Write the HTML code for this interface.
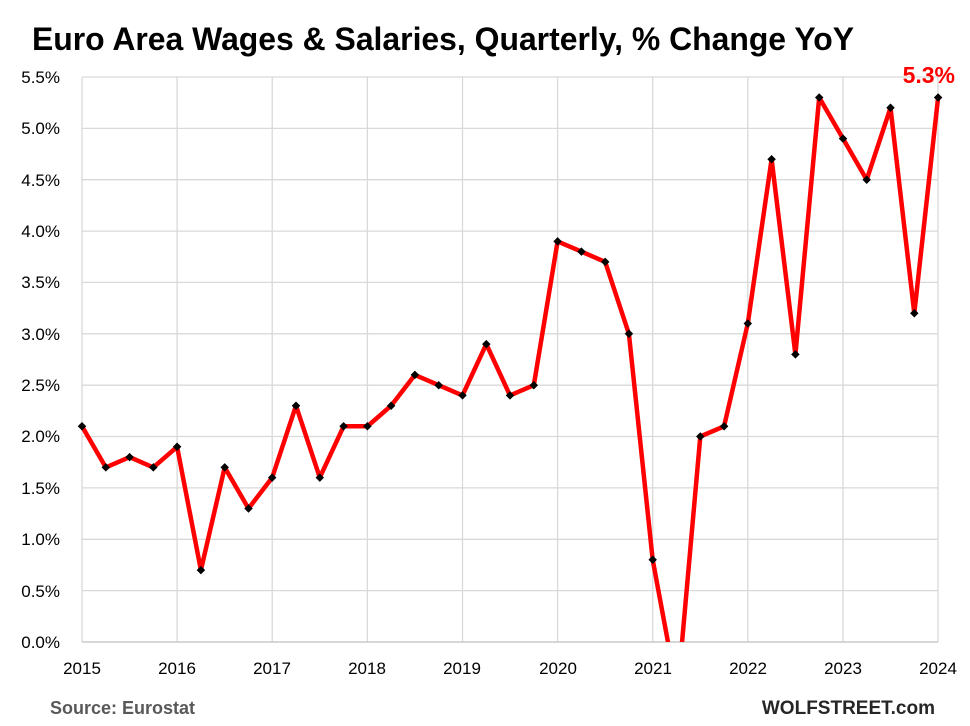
<!DOCTYPE html>
<html><head><meta charset="utf-8"><style>
html,body{margin:0;padding:0;background:#fff;}
svg{display:block;font-family:"Liberation Sans",Arial,sans-serif;}
</style></head><body>
<svg width="970" height="726" viewBox="0 0 970 726" xmlns="http://www.w3.org/2000/svg">
<rect width="970" height="726" fill="#fff"/>
<text x="32" y="50" font-size="32" font-weight="bold" fill="#000" textLength="822" lengthAdjust="spacingAndGlyphs">Euro Area Wages &amp; Salaries, Quarterly, % Change YoY</text>
<g stroke="#d9d9d9" stroke-width="1.3">
<line x1="82" y1="77" x2="938" y2="77"/><line x1="82" y1="128.4" x2="938" y2="128.4"/><line x1="82" y1="179.7" x2="938" y2="179.7"/><line x1="82" y1="231.1" x2="938" y2="231.1"/><line x1="82" y1="282.4" x2="938" y2="282.4"/><line x1="82" y1="333.8" x2="938" y2="333.8"/><line x1="82" y1="385.2" x2="938" y2="385.2"/><line x1="82" y1="436.5" x2="938" y2="436.5"/><line x1="82" y1="487.9" x2="938" y2="487.9"/><line x1="82" y1="539.3" x2="938" y2="539.3"/><line x1="82" y1="590.6" x2="938" y2="590.6"/>
<line x1="82" y1="77" x2="82" y2="642"/><line x1="177.1" y1="77" x2="177.1" y2="642"/><line x1="272.2" y1="77" x2="272.2" y2="642"/><line x1="367.4" y1="77" x2="367.4" y2="642"/><line x1="462.5" y1="77" x2="462.5" y2="642"/><line x1="557.6" y1="77" x2="557.6" y2="642"/><line x1="652.7" y1="77" x2="652.7" y2="642"/><line x1="747.8" y1="77" x2="747.8" y2="642"/><line x1="843" y1="77" x2="843" y2="642"/><line x1="938" y1="77" x2="938" y2="642"/>
</g>
<line x1="82" y1="642" x2="938" y2="642" stroke="#bfbfbf" stroke-width="1.3"/>
<g font-size="17" fill="#000" text-anchor="end">
<text x="60" y="83">5.5%</text><text x="60" y="134">5.0%</text><text x="60" y="186">4.5%</text><text x="60" y="237">4.0%</text><text x="60" y="288">3.5%</text><text x="60" y="340">3.0%</text><text x="60" y="391">2.5%</text><text x="60" y="442">2.0%</text><text x="60" y="494">1.5%</text><text x="60" y="545">1.0%</text><text x="60" y="597">0.5%</text><text x="60" y="648">0.0%</text>
</g>
<g font-size="17" fill="#000" text-anchor="middle">
<text x="82" y="674">2015</text><text x="177" y="674">2016</text><text x="272" y="674">2017</text><text x="367" y="674">2018</text><text x="462" y="674">2019</text><text x="558" y="674">2020</text><text x="653" y="674">2021</text><text x="748" y="674">2022</text><text x="843" y="674">2023</text><text x="938" y="674">2024</text>
</g>
<defs><clipPath id="c"><rect x="0" y="60" width="970" height="582"/></clipPath></defs>
<g clip-path="url(#c)">
<polyline fill="none" stroke="#ff0000" stroke-width="4.5" stroke-linejoin="round" points="82,426.3 105.8,467.4 129.6,457.1 153.3,467.4 177.1,446.8 200.9,570.1 224.7,467.4 248.5,508.5 272.2,477.6 296,405.7 319.8,477.6 343.6,426.3 367.4,426.3 391.1,405.7 414.9,374.9 438.7,385.2 462.5,395.4 486.3,344.1 510,395.4 533.8,385.2 557.6,241.4 581.4,251.6 605.2,261.9 628.9,333.8 652.7,559.8 677.5,693.4 700.3,436.5 724.1,426.3 747.8,323.5 771.6,159.2 795.4,354.4 819.2,97.5 843,138.6 866.7,179.7 890.5,107.8 914.3,313.3 938.1,97.5"/>
<g fill="#000">
<rect x="79" y="423.3" width="6" height="6" transform="rotate(45 82 426.3)"/>
<rect x="102.8" y="464.4" width="6" height="6" transform="rotate(45 105.8 467.4)"/>
<rect x="126.6" y="454.1" width="6" height="6" transform="rotate(45 129.6 457.1)"/>
<rect x="150.3" y="464.4" width="6" height="6" transform="rotate(45 153.3 467.4)"/>
<rect x="174.1" y="443.8" width="6" height="6" transform="rotate(45 177.1 446.8)"/>
<rect x="197.9" y="567.1" width="6" height="6" transform="rotate(45 200.9 570.1)"/>
<rect x="221.7" y="464.4" width="6" height="6" transform="rotate(45 224.7 467.4)"/>
<rect x="245.5" y="505.5" width="6" height="6" transform="rotate(45 248.5 508.5)"/>
<rect x="269.2" y="474.6" width="6" height="6" transform="rotate(45 272.2 477.6)"/>
<rect x="293" y="402.7" width="6" height="6" transform="rotate(45 296 405.7)"/>
<rect x="316.8" y="474.6" width="6" height="6" transform="rotate(45 319.8 477.6)"/>
<rect x="340.6" y="423.3" width="6" height="6" transform="rotate(45 343.6 426.3)"/>
<rect x="364.4" y="423.3" width="6" height="6" transform="rotate(45 367.4 426.3)"/>
<rect x="388.1" y="402.7" width="6" height="6" transform="rotate(45 391.1 405.7)"/>
<rect x="411.9" y="371.9" width="6" height="6" transform="rotate(45 414.9 374.9)"/>
<rect x="435.7" y="382.2" width="6" height="6" transform="rotate(45 438.7 385.2)"/>
<rect x="459.5" y="392.4" width="6" height="6" transform="rotate(45 462.5 395.4)"/>
<rect x="483.3" y="341.1" width="6" height="6" transform="rotate(45 486.3 344.1)"/>
<rect x="507" y="392.4" width="6" height="6" transform="rotate(45 510 395.4)"/>
<rect x="530.8" y="382.2" width="6" height="6" transform="rotate(45 533.8 385.2)"/>
<rect x="554.6" y="238.4" width="6" height="6" transform="rotate(45 557.6 241.4)"/>
<rect x="578.4" y="248.6" width="6" height="6" transform="rotate(45 581.4 251.6)"/>
<rect x="602.2" y="258.9" width="6" height="6" transform="rotate(45 605.2 261.9)"/>
<rect x="625.9" y="330.8" width="6" height="6" transform="rotate(45 628.9 333.8)"/>
<rect x="649.7" y="556.8" width="6" height="6" transform="rotate(45 652.7 559.8)"/>
<rect x="697.3" y="433.5" width="6" height="6" transform="rotate(45 700.3 436.5)"/>
<rect x="721.1" y="423.3" width="6" height="6" transform="rotate(45 724.1 426.3)"/>
<rect x="744.8" y="320.5" width="6" height="6" transform="rotate(45 747.8 323.5)"/>
<rect x="768.6" y="156.2" width="6" height="6" transform="rotate(45 771.6 159.2)"/>
<rect x="792.4" y="351.4" width="6" height="6" transform="rotate(45 795.4 354.4)"/>
<rect x="816.2" y="94.5" width="6" height="6" transform="rotate(45 819.2 97.5)"/>
<rect x="840" y="135.6" width="6" height="6" transform="rotate(45 843 138.6)"/>
<rect x="863.7" y="176.7" width="6" height="6" transform="rotate(45 866.7 179.7)"/>
<rect x="887.5" y="104.8" width="6" height="6" transform="rotate(45 890.5 107.8)"/>
<rect x="911.3" y="310.3" width="6" height="6" transform="rotate(45 914.3 313.3)"/>
<rect x="935.1" y="94.5" width="6" height="6" transform="rotate(45 938.1 97.5)"/>
</g>
</g>
<text x="955" y="83" font-size="23" font-weight="bold" fill="#ff0000" text-anchor="end">5.3%</text>
<text x="50" y="714" font-size="18" font-weight="bold" fill="#595959">Source: Eurostat</text>
<text x="935" y="714" font-size="19" font-weight="bold" fill="#262626" text-anchor="end">WOLFSTREET.com</text>
</svg>
</body></html>
